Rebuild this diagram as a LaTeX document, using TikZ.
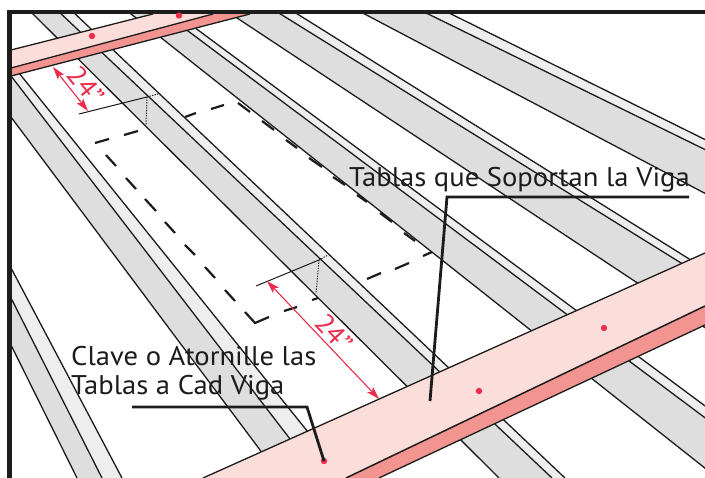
\documentclass[tikz,border=0pt]{standalone}
\usepackage{fontspec}
\setmainfont[FakeStretch=1.06]{PT Sans}
\usetikzlibrary{arrows.meta}
\definecolor{ink}{HTML}{1C1C1C}
\definecolor{jgray}{HTML}{DEDEDE}
\definecolor{jlight}{HTML}{EEEEEE}
\definecolor{blight}{HTML}{FBDDD9}
\definecolor{bdark}{HTML}{F29490}
\definecolor{redm}{HTML}{EB2D4B}
\tikzset{
  edge line/.style={draw=ink,line width=1.3pt},
  dash seg/.style={draw=ink,line width=2.2pt},
  thin dim/.style={draw=ink,line width=1pt},
  dot dim/.style={draw=ink,line width=1pt,dash pattern=on 1.3pt off 1.3pt},
  red dim/.style={draw=redm,line width=1.1pt,{Stealth[length=13pt,width=8pt,inset=3pt]}-{Stealth[length=13pt,width=8pt,inset=3pt]}},
  leader/.style={draw=ink,line width=2.8pt,miter limit=4},
  red dot/.style={circle,fill=redm,inner sep=0pt,minimum size=6.4pt},
  label text/.style={text=ink,inner sep=0pt,anchor=base west,font=\fontsize{27}{29}\selectfont},
  red text/.style={text=redm,inner sep=0pt,font=\fontsize{27}{29}\selectfont},
}
% joist: lower edge, middle edge, upper edge; each from-to
\newcommand\joistband[6]{%
  \fill[jgray] (#1) -- (#2) -- (#4) -- (#3) -- cycle;
  \fill[jlight] (#3) -- (#4) -- (#6) -- (#5) -- cycle;
  \draw[edge line] (#1) -- (#2);
  \draw[edge line] (#3) -- (#4);
  \draw[edge line] (#5) -- (#6);
}
\begin{document}
\begin{tikzpicture}[x=1pt,y=-1pt]
\useasboundingbox (0,0) rectangle (705,478);
\begin{scope}
\clip (9,12) rectangle (705,478);
\joistband{10,343}{77,478}{10,296}{102,478}{10,266}{122,478}
\joistband{8,113}{281,478}{8,72}{320,478}{15,68}{345,478}
\joistband{29,10}{499,478}{57,10}{552,478}{71,10}{565,478}
\joistband{126,10}{720,480}{160,10}{720,429}{171,10}{720,417}
\joistband{231,14}{710,331}{274,10}{710,281}{291,10}{710,272}
\joistband{357,10}{710,196}{420,10}{710,152}{443,10}{710,142}
% near beam
\fill[blight] (11,50) -- (153,14) -- (213,14) -- (11,68) -- cycle;
\fill[bdark] (11,68) -- (213,14) -- (250,14) -- (11,76) -- cycle;
\draw[edge line] (11,50) -- (153,14);
\draw[edge line] (11,68) -- (213,14);
\draw[edge line] (11,76) -- (250,14);
% far beam
\fill[blight] (203,478) -- (705,253) -- (705,306) -- (352,475) -- (346,478) -- cycle;
\fill[bdark] (346,478) -- (705,306) -- (705,325) -- (379,478) -- cycle;
\draw[edge line] (203,478) -- (705,253);
\draw[edge line,line width=1.5pt] (346,478) -- (705,306);
\draw[edge line] (379,478) -- (705,325);
\end{scope}
% frame
\fill[ink] (7.3,10) rectangle (705,14.5);
\fill[ink] (7.3,10) rectangle (11.7,478);
% dashed outline
\draw[dash seg] (95,143)--(109,139) (124,135)--(138,131) (185,117)--(196,113) (211,109)--(224,105)
 (238,103)--(250,112) (262,121)--(274,130) (286,140)--(297,148) (309,158)--(322,167) (333,177)--(345,185)
 (357,195)--(367,202) (380,213)--(392,222) (404,233)--(415,241)
 (106,155)--(116,166) (126,178)--(136,189) (145,199)--(156,211) (165,222)--(175,233)
 (185,245)--(195,255) (205,267)--(215,278) (225,290)--(235,301)
 (245,312)--(255,323)--(269,317) (284,311)--(297,307) (312,300)--(318,298)
 (367,279)--(381,273) (395,269)--(409,263) (423,256)--(432,252);
% dimension 1
\coordinate (d1a) at (79,114);
\coordinate (d1b) at (147,97);
\coordinate (d1c) at (146,125);
\coordinate (d1d) at (158,94);
\draw[thin dim] (d1a) -- (d1b);
\draw[dot dim] (d1b) -- (d1c) (d1b) -- (d1d);
\coordinate (r1a) at (53,67);
\coordinate (r1b) at (88,111);
\draw[red dim] (r1a) -- (r1b);
\node[red text,rotate=-51] (t1) at (86,85) {24"};
% dimension 2
\coordinate (d2a) at (256,286);
\coordinate (d2b) at (319,260);
\coordinate (d2c) at (316,293);
\coordinate (d2d) at (328,255);
\draw[thin dim] (d2a) -- (d2b);
\draw[dot dim] (d2b) -- (d2c) (d2b) -- (d2d);
\coordinate (r2a) at (267,281);
\coordinate (r2b) at (379,399);
\draw[red dim] (r2a) -- (r2b);
\node[red text,rotate=-47] (t2) at (334,333) {24"};
% dots
\node[red dot] (p1) at (92,36) {};
\node[red dot] (p2) at (179,15.5) {};
\node[red dot] (p3) at (324,461) {};
\node[red dot] (p4) at (479,391) {};
\node[red dot] (p5) at (604,328) {};
% leaders
\coordinate (l1a) at (689,197);
\coordinate (l1b) at (447,197);
\coordinate (l1c) at (430,401);
\draw[leader] (l1a) -- (l1b) -- (l1c);
\coordinate (l2a) at (132,407);
\coordinate (l2b) at (307,407);
\draw[leader] (l2a) -- (l2b) -- (p3.center);
% labels
\node[label text] (lab1) at (349,187) {Tablas que Soportan la Viga};
\node[label text] (lab2) at (71,366) {Clave o Atornille las};
\node[label text] (lab3) at (71,395) {Tablas a Cad Viga};
\end{tikzpicture}
\end{document}
